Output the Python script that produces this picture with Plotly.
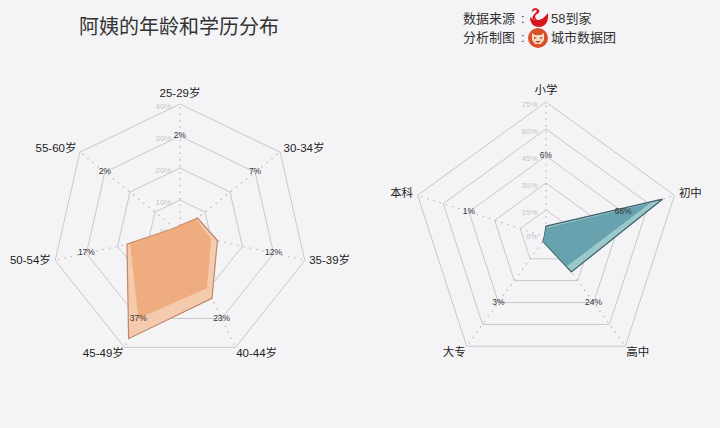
import plotly.graph_objects as go

age_labels = ["25-29岁", "30-34岁", "35-39岁", "40-44岁", "45-49岁", "50-54岁", "55-60岁"]
age_values = [2, 7, 12, 23, 37, 17, 2]
age_shade = [2, 6.5, 10, 19.5, 30, 16, 2]
age_text = ["2%", "7%", "12%", "23%", "37%", "17%", "2%"]
age_ticks = [0, 10, 20, 30, 40]
age_tick_text = ["0%", "10%", "20%", "30%", "40%"]
age_label_pos = ["top center", "middle right", "middle right", "bottom right", "bottom left", "middle left", "middle left"]

edu_labels = ["小学", "初中", "高中", "大专", "本科"]
edu_values = [6, 68, 24, 3, 1]
edu_shade = [5, 61, 20, 3, 1]
edu_text = ["6%", "68%", "24%", "3%", "1%"]
edu_ticks = [0, 15, 30, 45, 60, 75]
edu_tick_text = ["0%", "15%", "30%", "45%", "60%", "75%"]
edu_label_pos = ["top center", "middle right", "bottom right", "bottom left", "middle left"]

W, H = 720, 428
BG = "#f4f4f6"
FONT = "Liberation Sans, Noto Sans CJK SC"
EXTRA = 1.05


def closed(v):
    return list(v) + [v[0]]


def add_radar(fig, subplot, labels, values, shade, text, ticks, tick_text, label_r, label_pos, line, fill, fill2):
    outer = [ticks[-1] * (1.012 if p.startswith("bottom") else 1.035) for p in label_pos]
    tick_r = [t - ticks[-1] * 0.025 if t > ticks[0] else ticks[-1] * 0.002 for t in ticks]
    for lab in labels:
        fig.add_trace(go.Scatterpolar(r=[ticks[0], ticks[-1]], theta=[lab, lab], subplot=subplot, mode="lines",
                                      line=dict(color="#bcbcbc", width=1.3, dash="1.5px,5px"),
                                      hoverinfo="skip", showlegend=False))
    fig.add_trace(go.Scatterpolar(r=tick_r, theta=[labels[0]] * len(ticks), subplot=subplot, mode="markers+text",
                                  marker=dict(size=12, opacity=0),
                                  text=tick_text, textposition="middle left",
                                  textfont=dict(family=FONT, size=8, color="#c4c4c4"),
                                  hoverinfo="skip", showlegend=False))
    fig.add_trace(go.Scatterpolar(r=closed(values), theta=closed(labels), subplot=subplot, mode="lines",
                                  fill="toself", fillcolor=fill, line=dict(color=line, width=1.2),
                                  hoverinfo="skip", showlegend=False))
    fig.add_trace(go.Scatterpolar(r=closed(shade), theta=closed(labels), subplot=subplot, mode="lines",
                                  fill="toself", fillcolor=fill2, line=dict(width=0),
                                  hoverinfo="skip", showlegend=False))
    fig.add_trace(go.Scatterpolar(r=[label_r] * len(labels), theta=labels, subplot=subplot, mode="text",
                                  text=text, textposition="middle center",
                                  textfont=dict(family=FONT, size=8.5, color="#333333"),
                                  hoverinfo="skip", showlegend=False))
    fig.add_trace(go.Scatterpolar(r=outer, theta=labels, subplot=subplot, mode="text",
                                  text=labels, textposition=label_pos, cliponaxis=False,
                                  textfont=dict(family=FONT, size=11.5, color="#222222"),
                                  hoverinfo="skip", showlegend=False))


def polar_layout(cx, cy, R, labels, ticks):
    R = R * EXTRA
    return dict(
        domain=dict(x=[(cx - R) / W, (cx + R) / W], y=[1 - (cy + R) / H, 1 - (cy - R) / H]),
        bgcolor="rgba(0,0,0,0)",
        gridshape="linear",
        radialaxis=dict(range=[ticks[0], ticks[-1] * EXTRA], tickvals=ticks, angle=90, showticklabels=False,
                        showline=False, ticks="", gridcolor="#c8c8ca", gridwidth=1.1, layer="below traces"),
        angularaxis=dict(type="category", categoryarray=labels, categoryorder="array", direction="clockwise",
                         rotation=90, showline=False, ticks="", showgrid=False, showticklabels=False),
    )


fig = go.Figure()
add_radar(fig, "polar", age_labels, age_values, age_shade, age_text, age_ticks, age_tick_text, 30, age_label_pos,
          "#c08468", "rgba(244,200,165,0.9)", "rgba(238,165,115,0.8)")
add_radar(fig, "polar2", edu_labels, edu_values, edu_shade, edu_text, edu_ticks, edu_tick_text, 45, edu_label_pos,
          "#3a5f68", "rgba(150,198,200,0.95)", "rgba(100,160,172,0.95)")


def px_x(x):
    return x / W


def px_y(y):
    return 1 - y / H


swan_body = "M 530 17 C 532 19 534 20 538 20 C 541 20 544 18 548 13 C 549 20 546 27 539 27 C 533 27 530 23 530 17 Z"
swan_neck = "M 532 12 C 531 8 537 7 539 10 C 541 13 535 14 535 17 L 537 20 L 533 19 C 531 16 536 13 537 11 C 536 9 534 10 532 12 Z"
face_mark = "M 532 33 L 535 35 L 541 35 L 544 33 L 544 40 L 541 44 L 535 44 L 532 40 Z"
eyes = "M 534 37 L 537 38 L 534 39 Z M 542 37 L 539 38 L 542 39 Z M 535 41 L 541 41 L 538 43 Z"

LEFT = dict(family=FONT, size=13, color="#333333")
ANN = dict(xref="paper", yref="paper", showarrow=False, xanchor="left", yanchor="middle", font=LEFT)
fig.update_layout(
    width=W, height=H, margin=dict(l=0, r=0, t=0, b=0),
    paper_bgcolor=BG, plot_bgcolor=BG, showlegend=False,
    font=dict(family=FONT),
    polar=polar_layout(180, 232, 128, age_labels, age_ticks),
    polar2=polar_layout(546, 237, 135, edu_labels, edu_ticks),
    xaxis3=dict(domain=[0, 1], range=[0, W], visible=False, fixedrange=True),
    yaxis3=dict(domain=[0, 1], range=[H, 0], visible=False, fixedrange=True),
    shapes=[
        dict(type="path", path=swan_body, xref="x3", yref="y3", fillcolor="#d9141c", line=dict(width=0)),
        dict(type="path", path=swan_neck, xref="x3", yref="y3", fillcolor="#d9141c", line=dict(width=0)),
        dict(type="circle", xref="x3", yref="y3", x0=528, x1=548, y0=28, y1=48,
             fillcolor="#d8502a", line=dict(width=0)),
        dict(type="path", path=face_mark, xref="x3", yref="y3", fillcolor="#f6d9c4", line=dict(width=0)),
        dict(type="path", path=eyes, xref="x3", yref="y3", fillcolor="#c0391a", line=dict(width=0)),
    ],
    annotations=[
        dict(ANN, text="阿姨的年龄和学历分布", x=px_x(179), y=px_y(27), xanchor="center",
             font=dict(family=FONT, size=20, color="#333333")),
        dict(ANN, text="数据来源", x=px_x(461), y=px_y(19)),
        dict(ANN, text=":", x=px_x(519), y=px_y(19)),
        dict(ANN, text="分析制图", x=px_x(461), y=px_y(38)),
        dict(ANN, text=":", x=px_x(519), y=px_y(38)),
        dict(ANN, text="58到家", x=px_x(549), y=px_y(19)),
        dict(ANN, text="城市数据团", x=px_x(549), y=px_y(38)),
    ],
)
fig.add_trace(go.Scatter(x=[0], y=[0], xaxis="x3", yaxis="y3", mode="markers", marker=dict(opacity=0),
                         hoverinfo="skip", showlegend=False))
fig.write_html("out.html", post_script="document.body.style.margin='0';", config=dict(displayModeBar=False))
